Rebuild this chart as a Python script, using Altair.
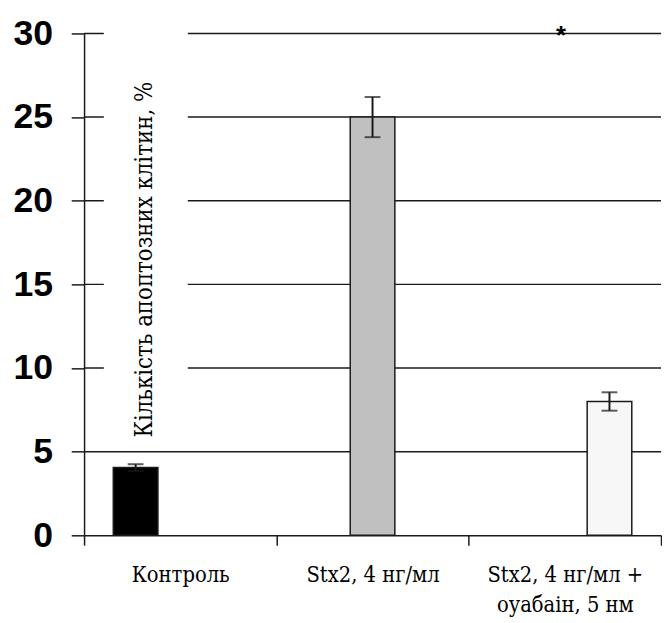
import altair as alt
import pandas as pd

categories = ["Контроль", "Stx2, 4 нг/мл", "Stx2, 4 нг/мл +\nоуабаін, 5 нм"]
values = [4.05, 25.0, 8.0]
errors = [0.2, 1.2, 0.55]
bar_colors = ["#000000", "#c0c0c0", "#f7f7f7"]
y_ticks = [0, 5, 10, 15, 20, 25, 30]
grid_values = [5, 10, 15, 20, 25, 30]
y_title = "Кількість апоптозних клітин, %"
star_category = categories[2]
star_value = 30

df = pd.DataFrame({
    "cat": categories,
    "val": values,
    "lo": [v - e for v, e in zip(values, errors)],
    "hi": [v + e for v, e in zip(values, errors)],
    "color": bar_colors,
})
grid_df = pd.DataFrame({"val": grid_values})
star_df = pd.DataFrame({"cat": [star_category], "val": [star_value]})

INK = "#1a1a1a"
SERIF = "DejaVu Serif Condensed, DejaVu Serif, serif"

yscale = alt.Scale(domain=[0, 30], nice=False, zero=True)
yaxis = alt.Axis(values=y_ticks, title=None, grid=False,
                 labelFont="Liberation Sans", labelFontWeight="bold",
                 labelFontSize=36, labelColor="#000000", labelPadding=19,
                 tickSize=13, tickWidth=1.5, tickColor=INK,
                 domainColor=INK, domainWidth=1.5)

def Y(field):
    return alt.Y(f"{field}:Q", scale=yscale, axis=yaxis, title=None)

xaxis = alt.Axis(title=None, labelAngle=0, tickBand="extent",
                 labelExpr="split(datum.label, '\\n')",
                 labelFont=SERIF, labelFontSize=22,
                 labelLineHeight=30, labelColor="#000000", labelPadding=20,
                 tickSize=10, tickWidth=1.5, tickColor=INK,
                 domainColor=INK, domainWidth=1.5)
X = alt.X("cat:N", sort=categories,
          scale=alt.Scale(domain=categories, paddingInner=0, paddingOuter=0),
          axis=xaxis)
XO = alt.XOffset("cat:N", sort=categories,
                 scale=alt.Scale(domain=categories, paddingInner=0, paddingOuter=0.655))

grid = alt.Chart(grid_df).mark_rule(color=INK, strokeWidth=1.5).encode(y=Y("val"))

mask = alt.Chart(alt.Data(values=[{}])).mark_rect(color="white").encode(
    x=alt.value(20), x2=alt.value(105), y=alt.value(-4), y2=alt.value(415))

bars = alt.Chart(df).mark_bar(stroke=INK, strokeWidth=1.5).encode(
    x=X, xOffset=XO, y=Y("val"), color=alt.Color("color:N", scale=None))

err = alt.Chart(df).mark_rule(color=INK, strokeWidth=2).encode(
    x=X, xOffset=XO, y=Y("lo"), y2="hi:Q")
cap_hi = alt.Chart(df).mark_tick(color=INK, thickness=2, size=16).encode(
    x=X, xOffset=XO, y=Y("hi"))
cap_lo = alt.Chart(df).mark_tick(color=INK, thickness=2, size=16).encode(
    x=X, xOffset=XO, y=Y("lo"))

star = alt.Chart(star_df).mark_text(text="*", font="Liberation Sans", fontSize=26,
                                    fontWeight="bold", color="#000000",
                                    dx=-4, dy=3).encode(x=X, y=Y("val"))

title = alt.Chart(alt.Data(values=[{}])).mark_text(
    angle=270, font=SERIF, fontSize=24, color="#000000",
    align="center", baseline="middle").encode(
    x=alt.value(62), y=alt.value(229), text=alt.value(y_title))

chart = alt.layer(grid, mask, bars, err, cap_hi, cap_lo, star, title).properties(
    width=584, height=508,
    autosize=alt.AutoSizeParams(type="none"),
    padding={"left": 77, "top": 22, "right": 1, "bottom": 85},
    background="white",
).configure_view(stroke=None)

chart.save("out.html", embed_options={"renderer": "svg", "actions": False})
